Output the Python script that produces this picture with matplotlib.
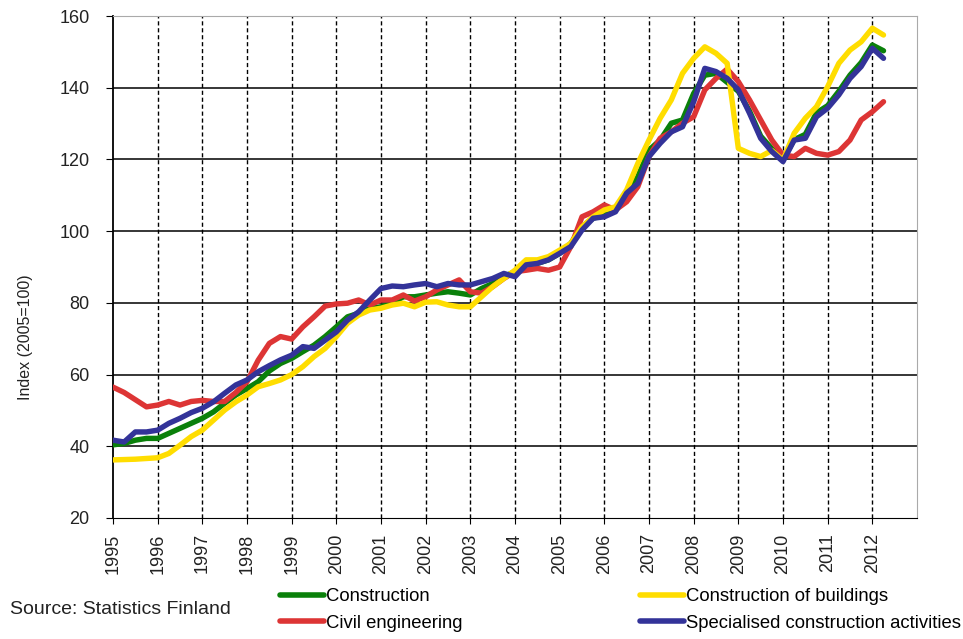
import numpy as np
import matplotlib
matplotlib.use('Agg')
import matplotlib.pyplot as plt

plt.rcParams['font.family'] = ['Liberation Sans', 'DejaVu Sans']

# quarterly readings, 1995 Q1 .. 2012 Q2
start_year = 1995
years = list(range(1995, 2013))

construction = [40.4, 40.8, 41.7, 42.2, 42.2, 43.6, 45.0, 46.4, 47.8, 49.6, 52.0, 54.3,
                56.1, 58.0, 61.0, 63.1, 64.5, 66.4, 68.2, 70.6, 73.3, 76.1, 77.1, 78.5,
                78.9, 79.9, 81.7, 81.7, 82.2, 82.7, 83.1, 82.7, 82.2, 84.0, 85.4, 87.3,
                88.7, 90.6, 91.0, 92.0, 93.8, 96.6, 101.2, 103.6, 104.5, 105.9, 110.1, 115.2,
                122.6, 125.4, 130.1, 131.0, 138.4, 143.5, 144.0, 141.5, 139.0, 133.5, 126.5, 123.0,
                120.0, 125.5, 127.0, 133.0, 135.0, 139.0, 143.5, 147.0, 151.9, 150.3]

civil_engineering = [56.5, 55.0, 53.0, 51.0, 51.5, 52.5, 51.5, 52.5, 52.8, 52.5, 52.5, 55.0,
                     58.0, 64.0, 68.7, 70.6, 69.9, 73.3, 76.1, 79.1, 79.7, 79.9, 80.8, 79.4,
                     80.8, 80.8, 82.2, 80.5, 81.7, 83.6, 85.0, 86.4, 83.1, 82.7, 84.5, 86.8,
                     88.7, 89.1, 89.6, 89.1, 90.0, 95.7, 104.0, 105.4, 107.3, 105.9, 108.2, 112.4,
                     120.8, 125.9, 127.7, 130.1, 131.9, 139.4, 142.6, 145.2, 141.7, 136.6, 131.0, 125.4,
                     121.2, 120.8, 123.1, 121.7, 121.2, 122.2, 125.4, 131.0, 133.3, 136.1]

buildings = [36.2, 36.3, 36.4, 36.6, 36.8, 38.0, 40.3, 42.7, 44.5, 47.3, 50.1, 52.4,
             54.3, 56.6, 57.5, 58.5, 60.0, 62.2, 65.0, 67.3, 70.6, 74.3, 76.6, 78.0,
             78.5, 79.4, 79.9, 78.9, 80.2, 80.3, 79.4, 78.9, 78.9, 81.7, 84.5, 86.8,
             89.1, 92.0, 92.0, 92.9, 94.7, 96.6, 101.2, 104.0, 105.9, 106.8, 111.5, 118.9,
             125.4, 131.5, 136.6, 144.0, 148.2, 151.4, 149.6, 146.8, 123.1, 121.7, 120.8, 122.5,
             119.8, 127.3, 131.5, 134.7, 140.3, 146.8, 150.5, 152.8, 156.6, 154.7]

specialised = [41.7, 41.2, 44.0, 44.0, 44.5, 46.4, 47.8, 49.4, 50.6, 52.4, 54.8, 57.1,
               58.5, 60.8, 62.5, 64.1, 65.4, 67.8, 67.3, 69.6, 71.9, 75.2, 77.5, 80.8,
               84.0, 84.7, 84.5, 85.0, 85.4, 84.5, 85.4, 85.0, 85.0, 85.9, 86.8, 88.2,
               87.3, 90.6, 91.0, 92.0, 93.8, 95.7, 100.3, 103.6, 104.0, 105.4, 110.6, 113.3,
               120.8, 124.5, 127.7, 129.1, 136.1, 145.4, 144.5, 142.6, 139.4, 132.9, 125.9, 122.2,
               119.4, 125.4, 125.9, 131.9, 134.3, 138.0, 142.6, 145.9, 151.0, 148.2]

series_labels = ['Construction', 'Civil engineering', 'Construction of buildings',
                 'Specialised construction activities']
series_colors = ['#0a800a', '#dd3535', '#ffdd00', '#333399']

t = start_year + np.arange(len(construction)) * 0.25

fig = plt.figure(figsize=(9.63, 6.39), dpi=100)
ax = fig.add_axes([113/963, 1 - 518/639, 804/963, 502/639])

for vals, lab, col in zip([construction, civil_engineering, buildings, specialised],
                          series_labels, series_colors):
    ax.plot(t, vals, color=col, lw=3.9, label=lab, solid_capstyle='round', zorder=3)

ax.set_xlim(1995, 2013)
ax.set_ylim(20, 160)
ax.set_yticks(range(20, 161, 20))
ax.set_xticks(years)
ax.set_xticklabels([str(y) for y in years], rotation=90)

# grid: solid horizontal, dashed vertical
for yv in range(40, 160, 20):
    ax.axhline(yv, color='black', lw=1.1, zorder=1)
for xv in range(1996, 2013):
    ax.axvline(xv, color='black', lw=1.0, ls=(0, (3, 2)), zorder=1)

for s in ['top', 'right']:
    ax.spines[s].set_color('#aaaaaa')
ax.spines['left'].set_color('black')
ax.spines['bottom'].set_color('black')
ax.spines['left'].set_linewidth(1.3)

ax.tick_params(axis='y', labelsize=13, length=5, color='black', labelcolor='#222222', pad=12)
ax.tick_params(axis='x', labelsize=13, length=4, color='black', labelcolor='#222222', pad=7)

ax.set_ylabel('Index (2005=100)', fontsize=11.5, color='#222222')
ax.yaxis.set_label_coords(-0.100, 0.36)

fig.text(10/963, 1 - 609/639, 'Source: Statistics Finland', fontsize=14,
         color='#222222', va='center', ha='left')

leg = fig.legend(loc='center left', bbox_to_anchor=(280/963, 1 - 610/639), ncol=2,
                 frameon=False, fontsize=13.3, handlelength=2.4, handletextpad=0.1,
                 columnspacing=9.6, labelspacing=0.5, borderpad=0, borderaxespad=0)
for line in leg.get_lines():
    line.set_linewidth(4)

fig.savefig('out.png', dpi=100)
